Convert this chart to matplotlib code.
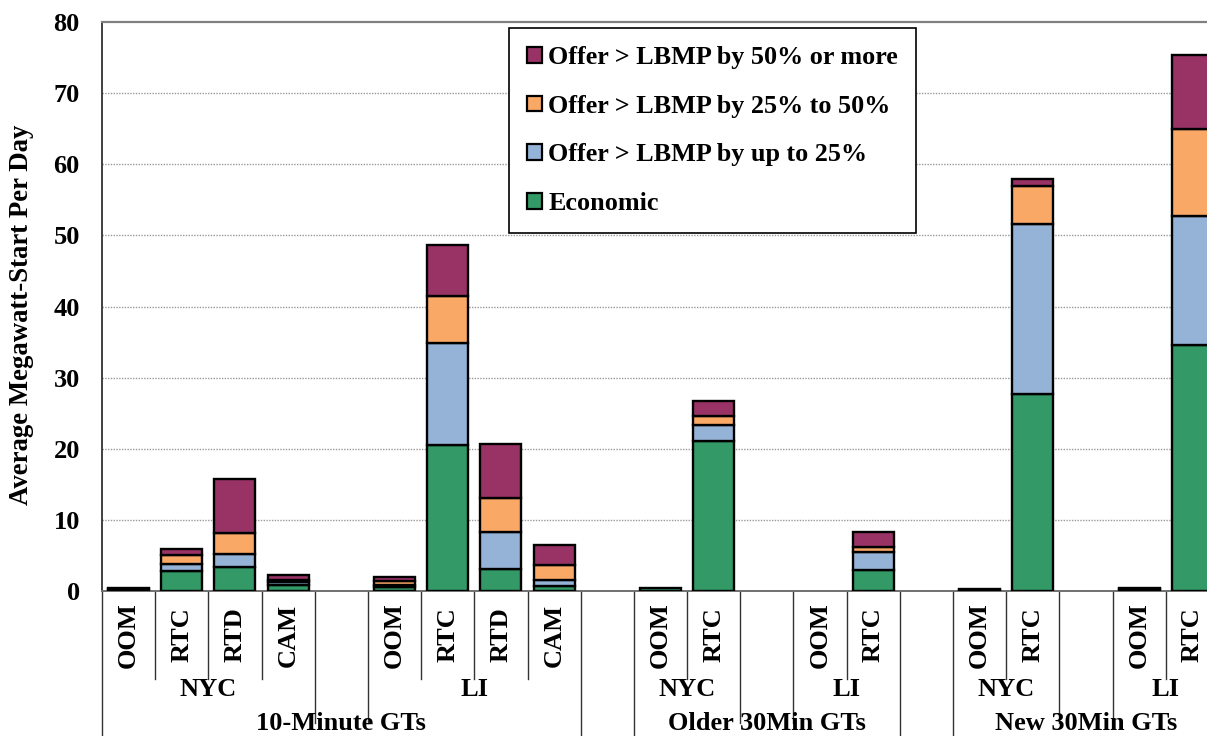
import numpy as np
import matplotlib
matplotlib.use("Agg")
import matplotlib.pyplot as plt
from matplotlib.patches import Patch
from matplotlib.transforms import blended_transform_factory

plt.rcParams["font.family"] = ["Liberation Serif", "DejaVu Serif"]
plt.rcParams["font.weight"] = "bold"

# Category layout: unit type / zone / product, with blank spacer slots
unit_labels = ["OOM", "RTC", "RTD", "CAM", "", "OOM", "RTC", "RTD", "CAM", "",
               "OOM", "RTC", "", "OOM", "RTC", "",
               "OOM", "RTC", "", "OOM", "RTC"]
zone_labels = ["NYC", "LI", "NYC", "LI", "NYC", "LI"]
group_labels = ["10-Minute GTs", "Older 30Min GTs", "New 30Min GTs"]

# Average megawatt-starts per day by offer category
economic = [0.25, 2.8, 3.4, 0.9, 0, 0.6, 20.5, 3.1, 0.75, 0,
            0.45, 21.1, 0, 0, 2.9, 0, 0.1, 27.7, 0, 0.3, 34.6]
up_to_25 = [0.05, 1.0, 1.85, 0.3, 0, 0.3, 14.4, 5.25, 0.85, 0,
            0, 2.3, 0, 0, 2.55, 0, 0.05, 23.9, 0, 0.05, 18.1]
pct_25_50 = [0.05, 1.25, 2.95, 0.35, 0, 0.5, 6.6, 4.75, 2.05, 0,
             0, 1.2, 0, 0, 0.75, 0, 0.05, 5.4, 0, 0, 12.3]
pct_50_up = [0.1, 0.9, 7.6, 0.65, 0, 0.5, 7.2, 7.5, 2.85, 0,
             0, 2.1, 0, 0, 2.05, 0, 0.05, 0.9, 0, 0.05, 10.4]

series = [
    ("Economic", economic, "#339966"),
    ("Offer > LBMP by up to 25%", up_to_25, "#95B3D7"),
    ("Offer > LBMP by 25% to 50%", pct_25_50, "#F9A866"),
    ("Offer > LBMP by 50% or more", pct_50_up, "#993366"),
]

FS = 19
n = len(economic)
fig = plt.figure(figsize=(12.07, 7.36), dpi=100)
W, H = 1207.0, 736.0
ax = fig.add_axes([102 / W, 1 - 591 / H, 1117 / W, 569 / H])

x = np.arange(n) + 0.5
bottom = np.zeros(n)
for name, vals, color in series:
    v = np.array(vals, dtype=float)
    m = v > 0
    ax.bar(x[m], v[m], bottom=bottom[m], width=0.77, color=color,
           edgecolor="black", linewidth=1.7, zorder=3)
    bottom += v

ax.set_xlim(0, n)
ax.set_ylim(0, 80)
ax.set_yticks(np.arange(0, 81, 10))
ax.set_xticks([])
ax.tick_params(axis="y", length=0, pad=16, labelsize=FS)
for lab in ax.get_yticklabels():
    lab.set_fontweight("bold")

for yv in range(10, 80, 10):
    ax.axhline(yv, color="#9A9A9A", linewidth=1.0, linestyle=(0, (1, 1)), zorder=1)

ax.spines["right"].set_visible(False)
ax.spines["top"].set_color("#808080")
ax.spines["top"].set_linewidth(1.6)
ax.spines["left"].set_color("#404040")
ax.spines["left"].set_linewidth(1.4)
ax.spines["bottom"].set_color("#707070")
ax.spines["bottom"].set_linewidth(1.4)

fig.text(22 / W, 1 - 315 / H, "Average Megawatt-Start Per Day", rotation=90,
         ha="center", va="center", fontsize=19.3, fontweight="bold")

# Multi-level category axis
tr = blended_transform_factory(ax.transData, ax.transAxes)
ph = 569.0
short_d, mid_d, full_d = -88 / ph, -132 / ph, -160 / ph
full_b = {0, 9, 10, 15, 16, 21}
mid_b = {4, 5, 12, 13, 18, 19}
for b in range(n + 1):
    d = full_d if b in full_b else (mid_d if b in mid_b else short_d)
    ax.plot([b, b], [0, d], transform=tr, color="#333333", linewidth=1.0,
            clip_on=False, zorder=2)

for i, lab in enumerate(unit_labels):
    if lab:
        ax.text(i + 0.5, -44 / ph, lab, transform=tr, rotation=90, ha="center",
                va="center", fontsize=FS, fontweight="bold")

zone_spans = [(0, 4), (5, 9), (10, 12), (13, 15), (16, 18), (19, 21)]
for lab, (s, e) in zip(zone_labels, zone_spans):
    ax.text((s + e) / 2, -99 / ph, lab, transform=tr, ha="center", va="center",
            fontsize=FS, fontweight="bold")

group_spans = [(0, 9), (10, 15), (16, 21)]
for lab, (s, e) in zip(group_labels, group_spans):
    ax.text((s + e) / 2, -133 / ph, lab, transform=tr, ha="center", va="center",
            fontsize=FS, fontweight="bold")

handles = [Patch(facecolor=c, edgecolor="black", linewidth=1.6, label=nm)
           for nm, _, c in series][::-1]
leg = fig.legend(handles=handles, loc="upper left",
                 bbox_to_anchor=(509 / W, 1 - 28 / H), frameon=True,
                 fancybox=False, edgecolor="black", framealpha=1,
                 prop={"family": ["Liberation Serif"], "weight": "bold", "size": 18.8},
                 handlelength=0.55, handleheight=0.55, handletextpad=0.25,
                 labelspacing=0.98, borderpad=0.7, borderaxespad=0)
leg.get_frame().set_linewidth(1.2)

fig.savefig("out.png", dpi=100)
